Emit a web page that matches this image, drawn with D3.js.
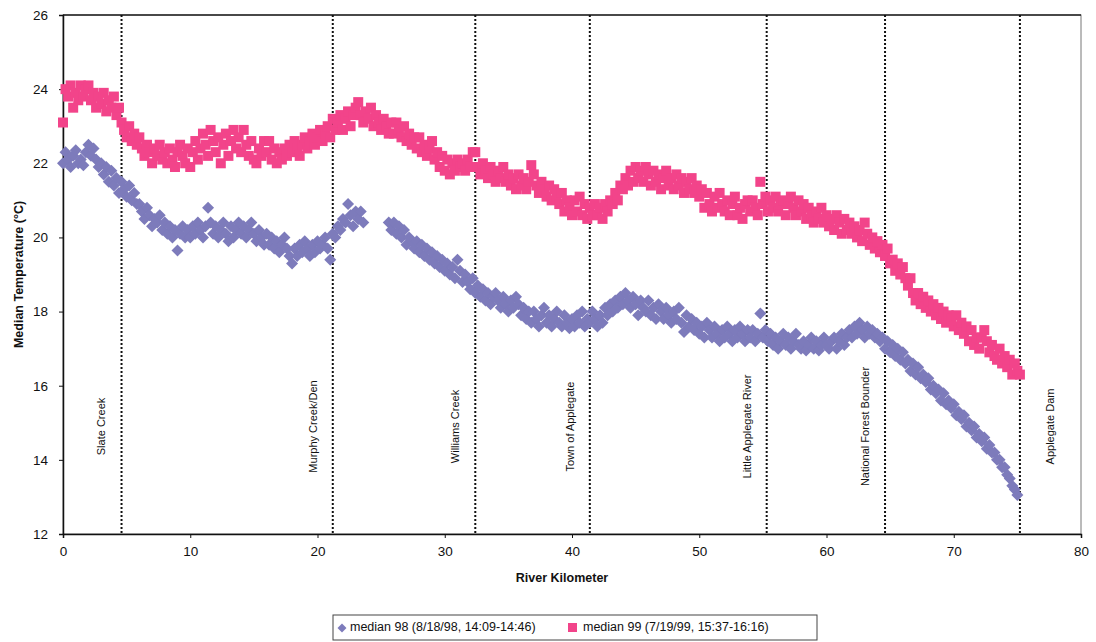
<!DOCTYPE html>
<html>
<head>
<meta charset="utf-8">
<script src="https://cdn.jsdelivr.net/npm/d3@7"></script>
<style>
  body { margin: 0; background: #fff; }
  text { font-family: Arial, "Liberation Sans", sans-serif; fill: #111; }
</style>
</head>
<body>
<script>
// readings every 0.2 river km, starting at km 0 (one row = 2 km)
var stepKm = 0.2;

// median 98 (8/18/98) - null where there is no reading
var median98 = [
  22.0, 22.3, 22.1, 21.9, 22.2, 22.35, 22.0, 22.1, 21.95, 22.3,
  22.5, 22.2, 22.4, 22.1, 21.9, 22.0, 21.7, 21.9, 21.5, 21.8,
  21.4, 21.6, 21.2, 21.5, 21.3, 21.1, 21.4, 21.0, 21.2, 20.9,
  20.9, 20.7, 20.5, 20.8, 20.6, 20.3, 20.5, 20.4, 20.6, 20.2,
  20.4, 20.1, 20.3, 20.0, 20.2, 19.65, 20.1, 20.3, 20.0, 20.2,
  20.0, 20.3, 20.1, 20.4, 20.2, 20.0, 20.3, 20.8, 20.4, 20.1,
  20.3, 20.0, 20.2, 20.4, 20.1, 19.9, 20.3, 20.0, 20.2, 20.4,
  20.1, 20.3, 20.0, 20.2, 20.4, 20.1, 19.9, 20.2, 20.0, 19.8,
  20.1, 19.8, 20.0, 19.7, 19.9, 19.6, 19.8, 20.0, 19.7, 19.5,
  19.3, 19.7, 19.5, 19.8, 19.6, 19.9, 19.7, 19.5, 19.8, 19.6,
  19.9, 19.7, 19.8, 20.0, 19.7, 19.4, 20.1, 20.0, 20.3, 20.2,
  20.5, 20.4, 20.9, 20.6, 20.3, 20.7, 20.5, 20.7, 20.4, null,
  null, null, null, null, null, null, null, null, 20.4, 20.2,
  20.4, 20.1, 20.3, 20.0, 20.2, 19.8, 20.0, 19.9, 19.7, 19.9,
  19.6, 19.8, 19.5, 19.7, 19.4, 19.6, 19.3, 19.5, 19.2, 19.4,
  19.1, 19.3, 19.0, 19.2, 18.9, 19.4, 19.1, 18.8, 19.0, 18.8,
  18.6, 18.9, 18.5, 18.7, 18.4, 18.6, 18.3, 18.5, 18.2, 18.4,
  18.5, 18.3, 18.1, 18.4, 18.2, 18.0, 18.3, 18.1, 18.4, 18.2,
  17.9, 18.1, 17.8, 18.0, 17.7, 18.0, 17.8, 17.6, 17.9, 18.1,
  17.7, 17.9, 17.6, 17.8, 18.0, 17.7, 17.6, 17.9, 17.7, 17.55,
  17.8, 17.6, 17.9, 17.7, 18.0, 17.6, 17.8, 17.7, 18.0, 17.8,
  17.6, 17.9, 17.7, 18.1, 17.9, 18.2, 18.0, 18.3, 18.1, 18.4,
  18.2, 18.5, 18.3, 18.1, 18.4, 18.2, 17.9, 18.3, 18.1, 18.0,
  18.3, 17.9, 18.1, 17.8, 18.2, 18.0, 17.8, 18.1, 17.9, 17.7,
  18.0, 17.8, 18.1, 17.7, 17.45, 17.9, 17.6, 17.8, 17.5, 17.7,
  17.4, 17.6, 17.3, 17.7, 17.5, 17.3, 17.6, 17.4, 17.2, 17.5,
  17.3, 17.6, 17.4, 17.2, 17.5, 17.3, 17.6, 17.4, 17.2, 17.5,
  17.3, 17.5, 17.2, 17.4, 17.95, 17.3, 17.5, 17.2, 17.4, 17.1,
  17.3, 17.0, 17.2, 17.4, 17.1, 17.3, 17.0, 17.2, 17.4, 17.1,
  17.0, 17.2, 16.95, 17.1, 17.3, 17.0, 17.2, 16.95, 17.1, 17.3,
  17.1, 17.0, 17.2, 17.3, 17.0, 17.2, 17.4, 17.1, 17.3, 17.5,
  17.3, 17.6, 17.4, 17.7, 17.5, 17.3, 17.6, 17.4, 17.5, 17.3,
  17.4, 17.2, 17.3, 17.0, 17.2, 16.9, 17.1, 16.8, 17.0, 16.7,
  16.9, 16.6, 16.7, 16.4, 16.6, 16.3, 16.5, 16.2, 16.3, 16.1,
  16.2, 15.9, 16.0, 15.8, 15.9, 15.6, 15.8, 15.5, 15.6, 15.4,
  15.5, 15.2, 15.3, 15.1, 15.2, 14.9, 15.0, 14.8, 14.9, 14.6,
  14.7, 14.5, 14.6, 14.3, 14.4, 14.2, 14.2, 14.0, 14.0, 13.8,
  13.8, 13.6, 13.5, 13.3, 13.2, 13.05
];

// median 99 (7/19/99)
var median99 = [
  23.1, 24.0, 23.8, 24.1, 23.5, 23.9, 23.7, 24.1, 23.8, 24.0,
  24.1, 23.7, 23.9, 23.5, 23.8, 23.6, 23.9, 23.4, 23.7, 23.5,
  23.8, 23.3, 23.5, 23.1, 22.9, 22.7, 23.0, 22.6, 22.8, 22.5,
  22.7, 22.4, 22.2, 22.5, 22.3, 22.0, 22.4, 22.2, 22.5, 22.1,
  22.3, 22.0, 22.4, 22.1, 21.9, 22.3, 22.5, 22.2, 22.0, 22.4,
  21.9, 22.3, 22.6, 22.1, 22.4, 22.8, 22.5, 22.2, 22.9, 22.6,
  22.3, 22.7, 22.0, 22.5, 22.8, 22.2, 22.6, 22.9, 22.4, 22.7,
  22.3, 22.9, 22.5, 22.2, 22.6, 22.1, 22.0, 22.4, 22.2, 22.6,
  22.3, 22.6, 22.1, 22.4, 22.0, 22.3, 22.1, 22.4, 22.2, 22.5,
  22.3, 22.6, 22.4, 22.2, 22.5, 22.7, 22.4, 22.6, 22.8, 22.5,
  22.7, 22.9, 22.6, 22.8, 23.0, 22.7, 23.2, 22.9, 23.1, 23.3,
  22.9, 23.2, 23.4, 23.0, 23.3, 23.5, 23.65, 23.3, 23.1, 23.4,
  23.2, 23.5, 23.0, 23.3, 23.1, 22.9, 23.2, 23.0, 22.8, 23.1,
  22.8, 23.1, 22.9, 22.7, 23.0, 22.6, 22.8, 22.5, 22.7, 22.4,
  22.7, 22.3, 22.5, 22.2, 22.4, 22.6, 22.1, 22.3, 21.9, 22.2,
  21.8, 22.1, 21.7, 22.0, 21.8, 22.1, 21.9, 22.0, 21.8, 22.1,
  21.9, 22.3, 22.3, 21.9, 21.7, 22.0, 21.8, 21.6, 21.9, 21.7,
  21.5, 21.8, 21.6, 21.9, 21.5, 21.7, 21.4, 21.6, 21.3, 21.7,
  21.4, 21.6, 21.3, 21.5, 21.95, 21.7, 21.4, 21.2, 21.5, 21.3,
  21.1, 21.4, 21.0, 21.3, 21.1, 20.9, 21.2, 20.7, 21.0, 20.8,
  20.6, 21.0, 20.7, 21.1, 20.6, 20.9, 20.5, 20.8, 20.6, 20.9,
  20.6, 20.8, 20.5, 20.9, 20.7, 21.0, 20.9, 21.2, 21.0, 21.4,
  21.3, 21.6, 21.4, 21.8, 21.5, 21.9, 21.6, 21.8, 21.5, 21.9,
  21.7, 21.4, 21.8, 21.5, 21.7, 21.3, 21.6, 21.8, 21.4, 21.6,
  21.3, 21.7, 21.4, 21.6, 21.2, 21.5, 21.3, 21.6, 21.2, 21.4,
  21.1, 21.3, 20.8, 21.2, 20.9, 20.7, 21.1, 20.8, 21.2, 20.9,
  20.7, 21.0, 20.6, 20.9, 21.1, 20.6, 20.8, 20.5, 20.9, 21.0,
  20.7, 21.0, 20.8, 20.6, 21.5, 20.9, 21.1, 20.7, 21.0, 20.8,
  21.1, 20.7, 20.9, 21.0, 20.6, 20.9, 21.1, 20.8, 20.6, 21.0,
  20.7, 20.9, 20.5, 20.8, 20.6, 20.4, 20.7, 20.5, 20.8, 20.4,
  20.6, 20.3, 20.5, 20.2, 20.6, 20.4, 20.1, 20.5, 20.2, 20.4,
  20.1, 20.3, 20.0, 20.2, 19.9, 20.4, 20.1, 19.8, 20.0, 19.7,
  19.9, 19.6, 19.8, 19.5, 19.7, 19.3, 19.4, 19.1, 19.3, 19.0,
  19.2, 18.9, 18.7, 18.9, 18.5, 18.3, 18.5, 18.2, 18.4, 18.1,
  18.3, 18.0, 18.2, 17.9, 18.1, 17.8, 18.0, 17.7, 17.9, 17.8,
  17.6, 17.9, 17.5, 17.7, 17.4, 17.6, 17.2, 17.5, 17.1, 17.3,
  17.0, 17.3, 17.5, 17.2, 16.9, 17.1, 16.8, 16.7, 17.0, 16.6,
  16.8, 16.5, 16.7, 16.3, 16.6, 16.4, 16.3
];

// landmarks along the river (km)
var landmarkNames = ['Slate Creek', 'Murphy Creek/Den', 'Williams Creek', 'Town of Applegate',
                     'Little Applegate River', 'National Forest Bounder', 'Applegate Dam'];
var landmarkKm = [4.6, 21.2, 32.4, 41.4, 55.3, 64.6, 75.2];

var xTicks = [0, 10, 20, 30, 40, 50, 60, 70, 80];
var yTicks = [12, 14, 16, 18, 20, 22, 24, 26];
var legendLabels = ['median 98 (8/18/98, 14:09-14:46)', 'median 99 (7/19/99, 15:37-16:16)'];

var blue = '#7d7bbb', pink = '#f2448a';

function toPoints(arr) {
    var pts = [];
    arr.forEach(function(t, i) { if (t !== null) pts.push([i * stepKm, t]); });
    return pts;
}
var pts98 = toPoints(median98);
var pts99 = toPoints(median99);

var W = 1096, H = 642;
var margin = {left: 63, right: 15, top: 15, bottom: 108};

var svg = d3.select('body').append('svg').attr('width', W).attr('height', H);

var x = d3.scaleLinear().domain([0, 80]).range([margin.left, W - margin.right]);
var y = d3.scaleLinear().domain([12, 26]).range([H - margin.bottom, margin.top]);

/*FRAME*/
svg.append('rect')
    .attr('x', x(0)).attr('y', y(26))
    .attr('width', x(80) - x(0)).attr('height', y(12) - y(26))
    .attr('fill', 'none').attr('stroke', '#777').attr('stroke-width', 1);
svg.append('line')
    .attr('x1', x(0)).attr('x2', x(80)).attr('y1', y(26)).attr('y2', y(26))
    .attr('stroke', '#222').attr('stroke-width', 1.5);

/*AXES*/
var gx = svg.append('g')
    .attr('transform', 'translate(0,' + y(12) + ')')
    .call(d3.axisBottom(x).tickValues(xTicks).tickSize(4).tickPadding(8));
var gy = svg.append('g')
    .attr('transform', 'translate(' + x(0) + ',0)')
    .call(d3.axisLeft(y).tickValues(yTicks).tickSize(4).tickPadding(11));
[gx, gy].forEach(function(g) {
    g.selectAll('path').attr('stroke', '#111').attr('stroke-width', 1.5);
    g.selectAll('line').attr('stroke', '#111');
    g.selectAll('text').attr('font-size', 13.5).attr('fill', '#111')
        .style('font-family', 'Arial, "Liberation Sans", sans-serif');
});

/*LANDMARK LINES*/
svg.selectAll('line.landmark')
    .data(landmarkKm)
    .enter().append('line')
        .attr('class', 'landmark')
        .attr('x1', function(d) { return x(d); })
        .attr('x2', function(d) { return x(d); })
        .attr('y1', y(26))
        .attr('y2', y(12))
        .attr('stroke', '#111')
        .attr('stroke-width', 2)
        .attr('stroke-dasharray', '2,2');

/*POINTS*/
var diamond = d3.symbol().type(d3.symbolSquare).size(72);
svg.selectAll('path.p98')
    .data(pts98)
    .enter().append('path')
        .attr('class', 'p98')
        .attr('d', diamond)
        .attr('transform', function(d) { return 'translate(' + x(d[0]) + ',' + y(d[1]) + ') rotate(45)'; })
        .attr('fill', blue);

svg.selectAll('rect.p99')
    .data(pts99)
    .enter().append('rect')
        .attr('class', 'p99')
        .attr('x', function(d) { return x(d[0]) - 5; })
        .attr('y', function(d) { return y(d[1]) - 5; })
        .attr('width', 10)
        .attr('height', 10)
        .attr('fill', pink);

/*LANDMARK LABELS*/
svg.selectAll('text.landmark')
    .data(landmarkNames)
    .enter().append('text')
        .attr('class', 'landmark')
        .attr('transform', function(d, i) {
            var dx = i === landmarkNames.length - 1 ? 31 : -19;
            return 'translate(' + (x(landmarkKm[i]) + dx) + ',' + y(14.9) + ') rotate(-90)';
        })
        .attr('text-anchor', 'middle')
        .attr('dominant-baseline', 'middle')
        .attr('font-size', 11)
        .text(function(d) { return d; });

/*AXIS TITLES*/
svg.append('text')
    .attr('x', (x(0) + x(80)) / 2 - 10)
    .attr('y', 582)
    .attr('text-anchor', 'middle')
    .attr('font-size', 12.5)
    .attr('font-weight', 'bold')
    .text('River Kilometer');
svg.append('text')
    .attr('transform', 'translate(20,' + y(19) + ') rotate(-90)')
    .attr('text-anchor', 'middle')
    .attr('dominant-baseline', 'middle')
    .attr('font-size', 12.5)
    .attr('font-weight', 'bold')
    .text('Median Temperature (\u00b0C)');

/*LEGEND*/
var legend = svg.append('g').attr('transform', 'translate(333,615)');
legend.append('rect')
    .attr('width', 484).attr('height', 25)
    .attr('fill', '#fff').attr('stroke', '#444').attr('stroke-width', 1);
legend.append('path')
    .attr('d', d3.symbol().type(d3.symbolSquare).size(40))
    .attr('transform', 'translate(9,13) rotate(45)')
    .attr('fill', blue);
legend.append('text')
    .attr('x', 17).attr('y', 13)
    .attr('dominant-baseline', 'middle')
    .attr('font-size', 12.5)
    .text(legendLabels[0]);
legend.append('rect')
    .attr('x', 235).attr('y', 8).attr('width', 9).attr('height', 9)
    .attr('fill', pink);
legend.append('text')
    .attr('x', 250).attr('y', 13)
    .attr('dominant-baseline', 'middle')
    .attr('font-size', 12.5)
    .text(legendLabels[1]);
</script>
</body>
</html>
